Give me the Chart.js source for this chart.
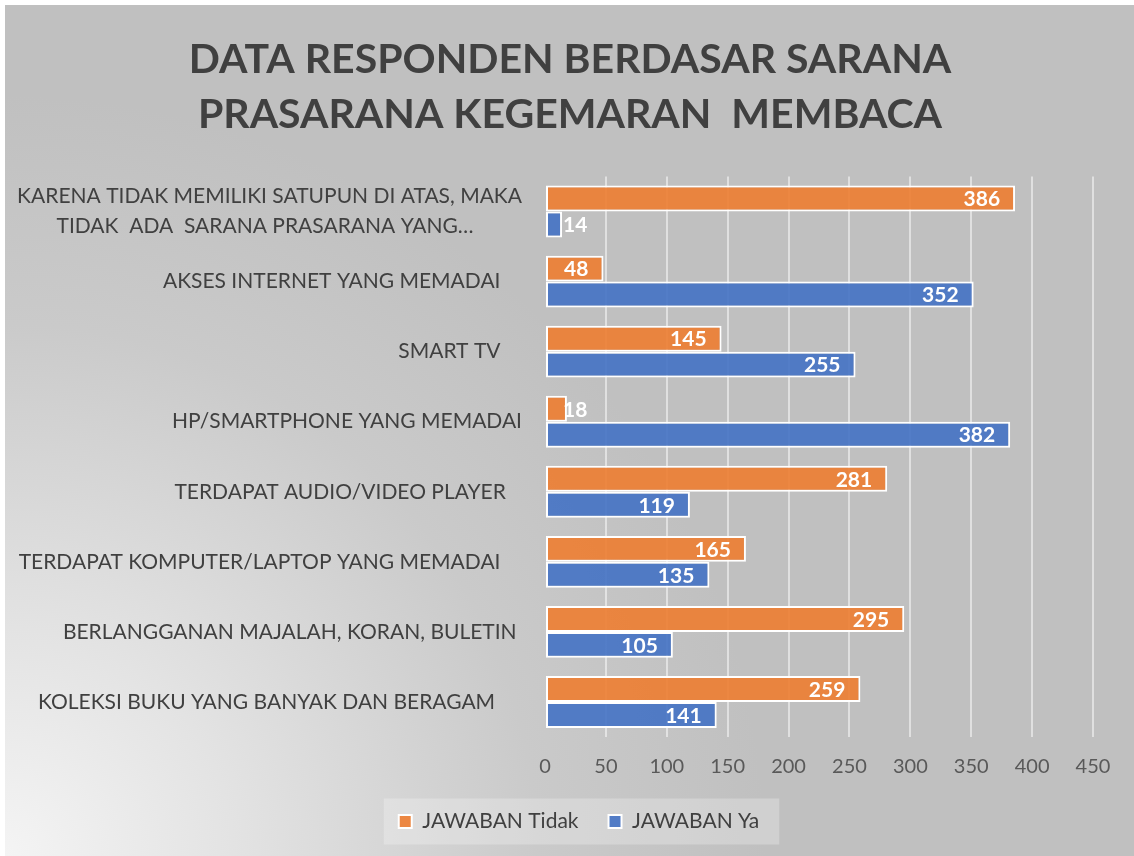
<!DOCTYPE html>
<html>
<head>
<meta charset="utf-8">
<script src="https://cdn.jsdelivr.net/npm/chart.js@4.4.1/dist/chart.umd.min.js"></script>
<style>
  body { margin: 0; background: #fff; }
  #wrap { position: absolute; left: 5px; top: 5px; width: 1129px; height: 851px; }
</style>
</head>
<body>
<div id="wrap"><canvas id="myChart"></canvas></div>
<script>
// data (top to bottom)
let categories = [
  ["KARENA TIDAK MEMILIKI SATUPUN DI ATAS, MAKA", "TIDAK  ADA  SARANA PRASARANA YANG…         "],
  "AKSES INTERNET YANG MEMADAI    ",
  "SMART TV    ",
  "HP/SMARTPHONE YANG MEMADAI",
  "TERDAPAT AUDIO/VIDEO PLAYER   ",
  "TERDAPAT KOMPUTER/LAPTOP YANG MEMADAI    ",
  "BERLANGGANAN MAJALAH, KORAN, BULETIN ",
  "KOLEKSI BUKU YANG BANYAK DAN BERAGAM     ",
];
let jawabanTidak = [386, 48, 145, 18, 281, 165, 295, 259];
let jawabanYa = [14, 352, 255, 382, 119, 135, 105, 141];
let titleLines = ["DATA RESPONDEN BERDASAR SARANA", "PRASARANA KEGEMARAN  MEMBACA"];

let labelFont = "Lato, 'Open Sans', sans-serif";

// background gradient + legend box
const bgPlugin = {
  id: "bg",
  afterLayout(chart) {
    // excel centres title and legend on the whole chart, not the plot
    const lg = chart.legend;
    if (lg) { lg.left += 30; lg.right += 30; }
    const tb = chart.titleBlock;
    if (tb) { tb.left += 21; tb.right += 21; }
  },
  beforeDraw(chart) {
    const ctx = chart.ctx;
    const w = chart.width, h = chart.height;
    ctx.save();
    const g = ctx.createRadialGradient(0, h, 0, 0, h, 760);
    g.addColorStop(0, "#f4f4f4");
    g.addColorStop(0.3, "#e3e3e3");
    g.addColorStop(0.7, "#cacaca");
    g.addColorStop(1, "#c0c0c0");
    ctx.fillStyle = g;
    ctx.fillRect(0, 0, w, h);
    const lg = chart.legend;
    if (lg && lg.legendHitBoxes && lg.legendHitBoxes.length) {
      const hb = lg.legendHitBoxes;
      const first = hb[0], last = hb[hb.length - 1];
      const l = first.left - 15;
      const r = last.left + last.width + 20;
      const cy = first.top + first.height / 2;
      ctx.fillStyle = "rgba(255,255,255,0.25)";
      ctx.fillRect(l, cy - 23, r - l, 46);
    }
    ctx.restore();
  },
};

// value labels at inside end of bars
const valuePlugin = {
  id: "values",
  afterDatasetsDraw(chart) {
    const ctx = chart.ctx;
    ctx.save();
    ctx.font = "bold 21px " + labelFont;
    ctx.fillStyle = "#ffffff";
    ctx.textBaseline = "middle";
    ctx.textAlign = "right";
    chart.data.datasets.forEach((ds, di) => {
      const meta = chart.getDatasetMeta(di);
      meta.data.forEach((bar, i) => {
        const txt = String(ds.data[i]);
        const tw = ctx.measureText(txt).width;
        const x = Math.max(bar.x - 15, bar.base + 17 + tw);
        ctx.fillText(txt, x, bar.y + 1);
      });
    });
    ctx.restore();
  },
};

let mychart = document.getElementById("myChart").getContext("2d");
let barChart = new Chart(mychart, {
  type: "bar",
  data: {
    labels: categories,
    datasets: [
      {
        label: "JAWABAN Tidak",
        data: jawabanTidak,
        backgroundColor: "rgba(237, 125, 49, 0.9)",
        borderColor: "#ffffff",
        borderWidth: 2,
        borderSkipped: false,
      },
      {
        label: "JAWABAN Ya",
        data: jawabanYa,
        backgroundColor: "rgba(68, 114, 196, 0.9)",
        borderColor: "#ffffff",
        borderWidth: 2,
        borderSkipped: false,
      },
    ],
  },
  options: {
    indexAxis: "y",
    responsive: true,
    maintainAspectRatio: false,
    animation: false,
    categoryPercentage: 0.74,
    barPercentage: 1.0,
    layout: { padding: { left: 0, right: 41, top: 0, bottom: 14 } },
    plugins: {
      title: {
        display: true,
        text: titleLines,
        color: "#404040",
        font: { family: labelFont, size: 41, weight: "bold", lineHeight: 55 / 41 },
        padding: { top: 27.5, bottom: 34 },
      },
      legend: {
        position: "bottom",
        labels: {
          color: "#404040",
          font: { family: labelFont, size: 21 },
          boxWidth: 13,
          boxHeight: 13,
          padding: 30,
        },
      },
      tooltip: { enabled: false },
    },
    scales: {
      x: {
        min: 0,
        max: 450,
        ticks: { stepSize: 50, color: "#595959", font: { family: labelFont, size: 20 }, padding: 18 },
        grid: {
          color: (c) => (c.index === 0 ? "rgba(0,0,0,0)" : "rgba(255,255,255,0.5)"),
          lineWidth: 2,
          drawTicks: false,
        },
        border: { display: false },
        afterFit: (axis) => { axis.height = 44; },
      },
      y: {
        ticks: { color: "#404040", font: { family: labelFont, size: 21, lineHeight: 1.43 }, padding: 23 },
        grid: { display: false, drawTicks: false },
        border: { display: false },
        afterFit: (axis) => { axis.width = 540; },
      },
    },
  },
  plugins: [bgPlugin, valuePlugin],
});
</script>
</body>
</html>
